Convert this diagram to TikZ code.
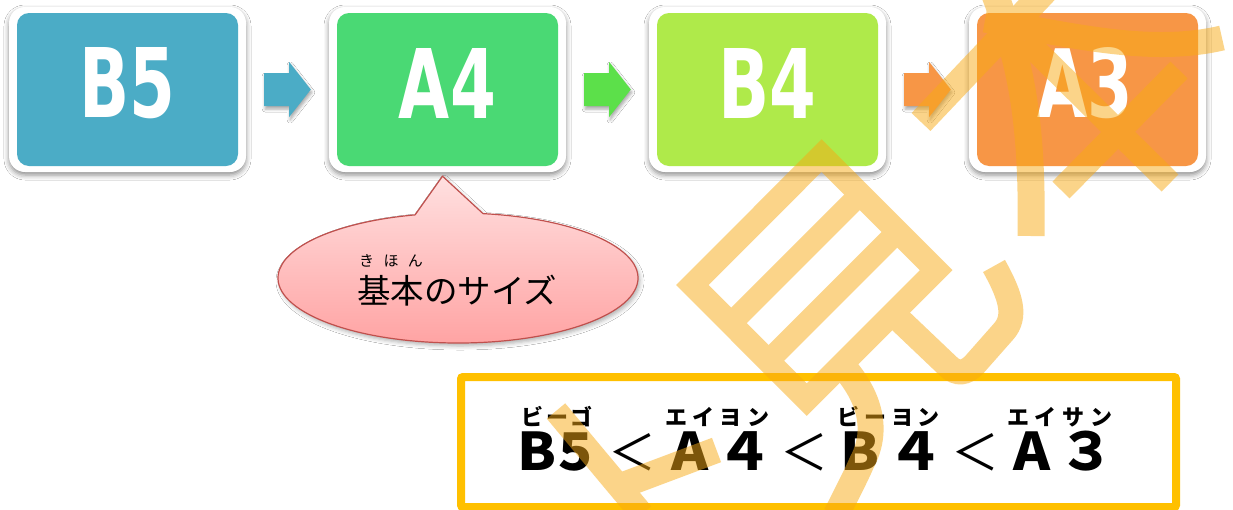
\documentclass[tikz,border=0pt]{standalone}
\usepackage{fontspec}
\setmainfont{DejaVu Sans}
\newfontfamily\jp{Noto Sans CJK JP}
\usetikzlibrary{calc,shadows.blur}
\definecolor{cB5}{RGB}{75,172,198}
\definecolor{cA4}{RGB}{74,217,116}
\definecolor{cArrG}{RGB}{92,224,74}
\definecolor{cB4}{RGB}{175,234,74}
\definecolor{cA3}{RGB}{247,150,70}
\definecolor{cYel}{RGB}{255,192,0}
\definecolor{cBub}{RGB}{192,80,77}
\definecolor{cBubT}{RGB}{255,224,224}
\definecolor{cBubB}{RGB}{255,162,162}
\definecolor{wmc}{RGB}{248,170,20}
\newcommand\wc[1]{\makebox[0pt]{\scalebox{1.08}[1]{#1}}}
\newcommand\lt{\makebox[0pt]{\mdseries\resizebox{48pt}{37pt}{＜}}}
\begin{document}
\begin{tikzpicture}[x=1pt,y=-1pt,
  outerbox/.style={fill=white, rounded corners=16pt, minimum width=237pt, minimum height=165pt, inner sep=0pt,
    blur shadow={shadow xshift=0pt, shadow yshift=-3pt, shadow blur radius=5pt, shadow opacity=45}},
  innerbox/.style={rounded corners=12pt, minimum width=221pt, minimum height=153pt, inner sep=0pt},
  boxtext/.style={text=white, inner sep=0pt, font=\bfseries},
  blockarrow/.style={draw=none, blur shadow={shadow xshift=1pt, shadow yshift=-3pt, shadow blur radius=3pt, shadow opacity=35}},
  callout/.style={draw=cBub, line width=1.2pt, top color=cBubT, bottom color=cBubB,
    blur shadow={shadow xshift=2pt, shadow yshift=-3pt, shadow blur radius=4pt, shadow opacity=30}},
  rubyjp/.style={inner sep=0pt, anchor=base, text depth=0pt, font={\jp\bfseries\fontsize{22pt}{22pt}\selectfont}},
  wmstroke/.style={draw=wmc, line width=24pt, line cap=butt, line join=miter}
]
\fill[white] (0,0) rectangle (1233,509);
\useasboundingbox (0,0) rectangle (1233,509);

% boxes
\node[outerbox] (b5o) at (127.5,89.5) {};
\node[innerbox, fill=cB5] (b5) at (127.5,89.5) {};
\node[boxtext] (b5t) at (127.5,83) {\resizebox{96pt}{70pt}{B5}};

\node[outerbox] (a4o) at (447.5,89.5) {};
\node[innerbox, fill=cA4] (a4) at (447.5,89.5) {};
\node[boxtext] (a4t) at (447.5,83) {\resizebox{97pt}{70pt}{A4}};

\node[outerbox] (b4o) at (767.5,89.5) {};
\node[innerbox, fill=cB4] (b4) at (767.5,89.5) {};
\node[boxtext] (b4t) at (767.5,83) {\resizebox{98pt}{70pt}{B4}};

\node[outerbox] (a3o) at (1087.5,89.5) {};
\node[innerbox, fill=cA3] (a3) at (1087.5,89.5) {};
\node[boxtext] (a3t) at (1085,83) {\resizebox{96pt}{70pt}{A3}};

% block arrows
\fill[cB5, blockarrow] ($(b5o.east)+(18,-16.5)$) -- ++(25,0) -- ++(0,-11) -- ($(a4o.west)+(-18,0)$)
  -- ($(b5o.east)+(43,27.5)$) -- ++(0,-11) -- ++(-25,0) -- cycle;
\fill[cArrG, blockarrow] ($(a4o.east)+(18,-16.5)$) -- ++(25,0) -- ++(0,-11) -- ($(b4o.west)+(-18,0)$)
  -- ($(a4o.east)+(43,27.5)$) -- ++(0,-11) -- ++(-25,0) -- cycle;
\fill[cA3, blockarrow] ($(b4o.east)+(18,-16.5)$) -- ++(25,0) -- ++(0,-11) -- ($(a3o.west)+(-18,0)$)
  -- ($(b4o.east)+(43,27.5)$) -- ++(0,-11) -- ++(-25,0) -- cycle;

% callout
\coordinate (bubc) at (458,278);
\coordinate (tip) at ($(a4o.south)+(-5,4)$);
\path[callout] (tip) -- ($(bubc)+(-82:180 and 65)$)
  arc[start angle=-82, end angle=256.2, x radius=180, y radius=65] -- cycle;
\node[inner sep=0pt, anchor=base, text depth=0pt, font={\jp\fontsize{15pt}{15pt}\selectfont}] (kihonr) at (391,266)
  {\makebox[64pt][s]{き\hfill ほ\hfill ん}};
\node[inner sep=0pt, anchor=base, text height=28pt, font={\jp\fontsize{33.5pt}{33.5pt}\selectfont}] (kihon) at (457,303) {基本のサイズ};

% comparison box
\node[draw=cYel, line width=8pt, minimum width=715pt, minimum height=130pt, inner sep=0pt, rounded corners=2pt] (cmp) at (818.5,442) {};
\node[inner sep=0pt, anchor=base west, text height=36pt, text depth=1pt, font={\jp\bfseries\fontsize{52pt}{52pt}\selectfont}] (cmpt) at (537,470)
  {\wc{B}\hspace{38pt}\wc{5}\hspace{57pt}\lt\hspace{58pt}\wc{A}\hspace{54pt}\wc{４}\hspace{60pt}\lt\hspace{56pt}\wc{B}\hspace{55pt}\wc{４}\hspace{60pt}\lt\hspace{57pt}\wc{A}\hspace{54pt}\wc{３}};
\node[rubyjp] (r1) at (557,425) {\makebox[72pt][s]{ビ\hfill ー\hfill ゴ}};
\node[rubyjp] (r2) at (717,425) {\makebox[104pt][s]{エ\hfill イ\hfill ヨ\hfill ン}};
\node[rubyjp] (r3) at (888.5,425) {\makebox[103pt][s]{ビ\hfill ー\hfill ヨ\hfill ン}};
\node[rubyjp] (r4) at (1059.5,425) {\makebox[105pt][s]{エ\hfill イ\hfill サ\hfill ン}};

% watermark
\begin{scope}[transparency group, opacity=0.5]
  \draw[wmstroke, line width=23pt] (692.3,285) -- (821.6,155.6) -- (936.2,270.2) -- (806.8,399.6) -- cycle;
  \draw[wmstroke, line width=22pt] (730.8,323.5) -- (860.2,194.2);
  \draw[wmstroke, line width=22pt] (768.2,361.0) -- (897.6,231.6);
  \draw[wmstroke, line width=26pt] (841,364) .. controls (872,398) and (878,432) .. (862,462)
     .. controls (855,478) and (846,495) .. (836,515);
  \draw[wmstroke, line width=25pt] (886,307) -- (948,366) .. controls (957,375) and (966,373) .. (974,365)
     -- (1004,331) .. controls (1016,317) and (1012,298) .. (994,266);
  \draw[wmstroke] (556,411) -- (642,514);
  \draw[wmstroke, line width=26pt] (618,487) -- (716.5,450);
  \draw[wmstroke, line width=26pt] (921,122) -- (1050,-14);
  \draw[wmstroke, line width=27pt] (995,-5) .. controls (1020,60) and (1033,120) .. (1031,236);
  \draw[wmstroke, line width=25pt] (985,20) .. controls (1070,35) and (1150,55) .. (1222,38);
  \draw[wmstroke] (1061,190) -- (1179,70);
  \draw[wmstroke] (1025,40) -- (1170,183);
\end{scope}
\end{tikzpicture}
\end{document}
